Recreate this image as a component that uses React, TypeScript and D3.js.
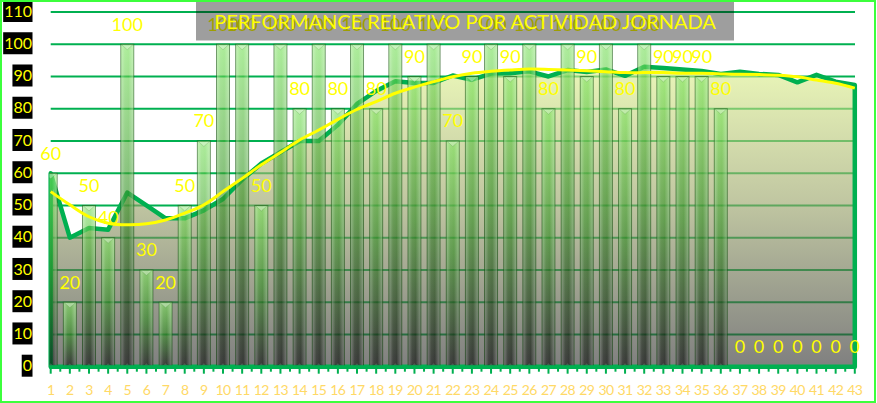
import { useRef, useEffect } from 'react';
import * as d3 from 'd3';

const jornadas = [
  '1', '2', '3', '4', '5', '6', '7', '8', '9', '10', '11', '12', '13', '14', '15',
  '16', '17', '18', '19', '20', '21', '22', '23', '24', '25', '26', '27', '28', '29', '30',
  '31', '32', '33', '34', '35', '36', '37', '38', '39', '40', '41', '42', '43',
];

// performance per jornada (bars)
const performance = [
  60, 20, 50, 40, 100, 30, 20, 50, 70, 100, 100, 50, 100, 80, 100, 80, 100, 80, 100, 90,
  100, 70, 90, 100, 90, 100, 80, 100, 90, 100, 80, 100, 90, 90, 90, 80, 0, 0, 0, 0, 0, 0, 0,
];

// running average (green area)
const promedio = [
  60, 40, 43, 42.5, 54, 50, 46, 46, 48.5, 52, 58, 63, 66.5, 70, 70, 75, 81.5, 85.5, 88.5, 88,
  88, 90.3, 89, 90.9, 91, 91.6, 90, 92, 91.4, 92.2, 90.2, 93, 92.6, 92.2, 91.7, 90.8, 91.5, 90.8,
  90.5, 88.2, 90.5, 88.4, 87.4,
];

// trend line (yellow)
const tendencia = [
  54.3, 50.2, 46.5, 44.5, 44, 44.3, 45.5, 47.6, 50.2, 54.3, 58.4, 62.6, 66.4, 70.3, 73.4, 76.7,
  79.8, 82.2, 84.8, 86.7, 88.4, 89.9, 91, 91.6, 92, 92.3, 92.2, 92, 91.8, 91.5, 91.2, 91.2, 91.2,
  91, 91, 90.8, 90.7, 90.6, 90.4, 89.9, 88.9, 87.9, 86.4,
];

const yTicks = [0, 10, 20, 30, 40, 50, 60, 70, 80, 90, 100, 110];

const title = 'PERFORMANCE RELATIVO POR ACTIVIDAD JORNADA';

const W = 877;
const H = 403;
const FONT = 'Lato, "Open Sans", sans-serif';

const App = () => {
  const svgRef = useRef<SVGSVGElement>(null);

  useEffect(() => {
    const svg = d3.select(svgRef.current);
    svg.selectAll('*').remove();

    const x = d3.scalePoint<string>().domain(jornadas).range([50.7, 854.8]);
    const y = d3.scaleLinear().domain([0, 110]).range([366.7, 12]);
    const barW = 13;

    const defs = svg.append('defs');

    const areaGrad = defs.append('linearGradient')
      .attr('id', 'areaGrad').attr('x1', 0).attr('y1', 0).attr('x2', 0).attr('y2', 1);
    areaGrad.append('stop').attr('offset', 0).attr('stop-color', '#dcf08c').attr('stop-opacity', 0.62);
    areaGrad.append('stop').attr('offset', 0.45).attr('stop-color', '#9aa468').attr('stop-opacity', 0.62);
    areaGrad.append('stop').attr('offset', 1).attr('stop-color', '#2b2b2b').attr('stop-opacity', 0.6);

    const barV = defs.append('linearGradient')
      .attr('id', 'barV').attr('x1', 0).attr('y1', 0).attr('x2', 0).attr('y2', 1);
    barV.append('stop').attr('offset', 0).attr('stop-color', '#74e055').attr('stop-opacity', 0.6);
    barV.append('stop').attr('offset', 0.5).attr('stop-color', '#2f8a20').attr('stop-opacity', 0.62);
    barV.append('stop').attr('offset', 1).attr('stop-color', '#101010').attr('stop-opacity', 0.65);

    const barH = defs.append('linearGradient')
      .attr('id', 'barH').attr('x1', 0).attr('y1', 0).attr('x2', 1).attr('y2', 0);
    barH.append('stop').attr('offset', 0).attr('stop-color', '#fff').attr('stop-opacity', 0.3);
    barH.append('stop').attr('offset', 0.3).attr('stop-color', '#fff').attr('stop-opacity', 0.05);
    barH.append('stop').attr('offset', 0.6).attr('stop-color', '#fff').attr('stop-opacity', 0);
    barH.append('stop').attr('offset', 1).attr('stop-color', '#fff').attr('stop-opacity', 0.3);

    defs.append('clipPath').attr('id', 'plotClip')
      .append('rect').attr('x', 49.5).attr('y', 0).attr('width', 807).attr('height', 370);

    svg.append('rect').attr('width', W).attr('height', H).attr('fill', '#fff');

    // Gridlines
    svg.append('g').selectAll('line')
      .data(yTicks.filter(t => t > 0))
      .join('line')
      .attr('x1', 50.7).attr('x2', 855)
      .attr('y1', d => y(d)).attr('y2', d => y(d))
      .attr('stroke', '#00b050').attr('stroke-width', 2);

    // Area (running average)
    const area = d3.area<number>()
      .x((_d, i) => x(jornadas[i]) as number)
      .y0(y(0))
      .y1(d => y(d));
    svg.append('path')
      .datum(promedio)
      .attr('d', area)
      .attr('fill', 'url(#areaGrad)')
      .attr('stroke', '#00b050')
      .attr('stroke-width', 4.5)
      .attr('stroke-linejoin', 'round');

    // Bars
    const bars = svg.append('g').attr('clip-path', 'url(#plotClip)');
    const barData = performance.map((v, i) => ({ cat: jornadas[i], v })).filter(d => d.v > 0);
    bars.selectAll('rect.bar')
      .data(barData)
      .join('rect')
      .attr('class', 'bar')
      .attr('x', d => (x(d.cat) as number) - barW / 2)
      .attr('y', d => y(d.v))
      .attr('width', barW)
      .attr('height', d => y(0) - y(d.v))
      .attr('fill', 'url(#barV)')
      .attr('stroke', 'rgba(30,80,25,0.55)')
      .attr('stroke-width', 1);
    bars.selectAll('rect.hl')
      .data(barData)
      .join('rect')
      .attr('class', 'hl')
      .attr('x', d => (x(d.cat) as number) - barW / 2 + 0.5)
      .attr('y', d => y(d.v) + 0.5)
      .attr('width', barW - 1)
      .attr('height', d => y(0) - y(d.v) - 1)
      .attr('fill', 'url(#barH)');
    bars.selectAll('path.cap')
      .data(barData)
      .join('path')
      .attr('class', 'cap')
      .attr('d', d => {
        const cx = x(d.cat) as number;
        const t = y(d.v) + 0.5;
        return `M${cx - barW / 2 + 1},${t}L${cx + barW / 2 - 1},${t}L${cx},${t + 5}Z`;
      })
      .attr('fill', 'rgba(255,255,255,0.35)')
      .attr('stroke', 'rgba(60,120,50,0.35)')
      .attr('stroke-width', 0.6);
    bars.selectAll('path.base')
      .data(barData)
      .join('path')
      .attr('class', 'base')
      .attr('d', d => {
        const cx = x(d.cat) as number;
        const b = y(0) - 0.5;
        return `M${cx - 3},${b}L${cx},${b - 3}L${cx + 3},${b}Z`;
      })
      .attr('fill', 'rgba(255,255,255,0.15)');

    // X axis line + ticks
    svg.append('line')
      .attr('x1', 49).attr('x2', 856.5).attr('y1', y(0)).attr('y2', y(0))
      .attr('stroke', '#00b050').attr('stroke-width', 3);
    const step = x.step();
    const tickPos: { px: number; major: boolean }[] = [];
    jornadas.forEach((c, i) => {
      tickPos.push({ px: x(c) as number, major: true });
      if (i < jornadas.length - 1) tickPos.push({ px: (x(c) as number) + step / 2, major: false });
    });
    svg.append('g').selectAll('line')
      .data(tickPos)
      .join('line')
      .attr('x1', d => d.px).attr('x2', d => d.px)
      .attr('y1', y(0)).attr('y2', d => y(0) + (d.major ? 7 : 5))
      .attr('stroke', '#00b050').attr('stroke-width', 2);

    svg.append('g').selectAll('text')
      .data(jornadas)
      .join('text')
      .attr('x', d => x(d) as number)
      .attr('y', 390)
      .attr('dy', '0.35em')
      .attr('text-anchor', 'middle')
      .attr('font-family', FONT)
      .attr('font-size', 14)
      .attr('letter-spacing', -0.6)
      .attr('fill', '#ffd966')
      .text(d => d);

    // Trend line
    const line = d3.line<number>()
      .x((_d, i) => x(jornadas[i]) as number)
      .y(d => y(d))
      .curve(d3.curveCatmullRom);
    svg.append('path')
      .datum(tendencia)
      .attr('d', line)
      .attr('fill', 'none')
      .attr('stroke', '#ffff00')
      .attr('stroke-width', 3);

    // Data labels
    svg.append('g').selectAll('text')
      .data(performance.map((v, i) => ({ cat: jornadas[i], v })))
      .join('text')
      .attr('x', d => x(d.cat) as number)
      .attr('y', d => y(d.v) - 20)
      .attr('dy', '0.35em')
      .attr('text-anchor', 'middle')
      .attr('font-family', FONT)
      .attr('font-size', 18)
      .attr('fill', '#ffff00')
      .text(d => d.v);

    // Y axis labels on black boxes
    const yLab = svg.append('g');
    yTicks.forEach(t => {
      const cy = y(t) - 1;
      const txt = yLab.append('text')
        .attr('x', 32)
        .attr('y', cy)
        .attr('dy', '0.35em')
        .attr('text-anchor', 'end')
        .attr('font-family', FONT)
        .attr('font-size', 16)
        .attr('fill', '#ffff00')
        .text(t);
      const w = (txt.node() as SVGTextElement).getComputedTextLength();
      yLab.insert('rect', 'text')
        .attr('x', 32 - w - 1)
        .attr('y', cy - 11)
        .attr('width', w + 1.5)
        .attr('height', 22)
        .attr('fill', '#000');
    });

    // Title
    svg.append('rect')
      .attr('x', 196).attr('y', 1.5).attr('width', 538).attr('height', 39)
      .attr('fill', 'rgba(0,0,0,0.38)');
    svg.append('text')
      .attr('x', 465)
      .attr('y', 22)
      .attr('dy', '0.35em')
      .attr('text-anchor', 'middle')
      .attr('font-family', FONT)
      .attr('font-size', 20)
      .attr('fill', '#ffff00')
      .text(title);

    // Outer border
    svg.append('rect')
      .attr('x', 1).attr('y', 1).attr('width', W - 3).attr('height', H - 2)
      .attr('fill', 'none')
      .attr('stroke', '#3cff3c')
      .attr('stroke-width', 2);
  }, []);

  return (
    <svg
      ref={svgRef}
      width={W}
      height={H}
      style={{ position: 'absolute', left: 0, top: 0, display: 'block' }}
    />
  );
};

export default App;
